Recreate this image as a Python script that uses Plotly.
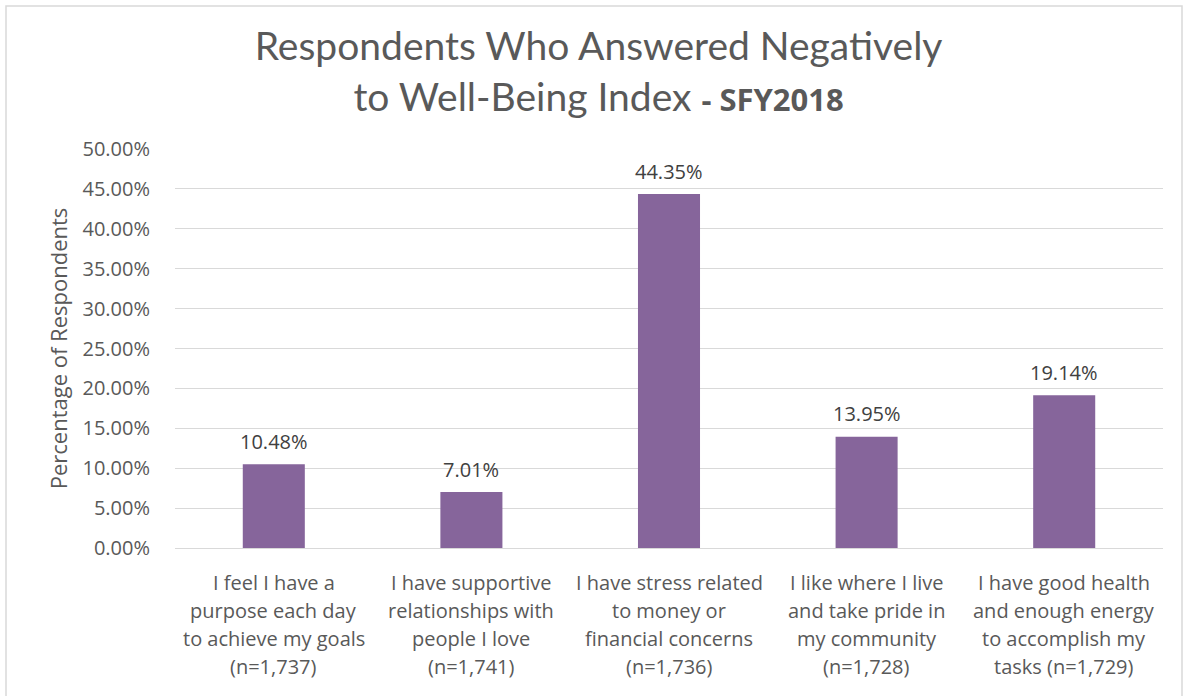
import plotly.graph_objects as go

# Survey items (one list of text lines per category)
category_lines = [
    ["I feel I have a", "purpose each day", "to achieve my goals", "(n=1,737)"],
    ["I have supportive", "relationships with", "people I love", "(n=1,741)"],
    ["I have stress related", "to money or", "financial concerns", "(n=1,736)"],
    ["I like where I live", "and take pride in", "my community", "(n=1,728)"],
    ["I have good health", "and enough energy", "to accomplish my", "tasks (n=1,729)"],
]
categories = [" ".join(lines) for lines in category_lines]

# Share of respondents answering negatively (%)
values = [10.48, 7.01, 44.35, 13.95, 19.14]

y_ticks = [0, 5, 10, 15, 20, 25, 30, 35, 40, 45, 50]
y_tick_text = [f"{t:.2f}%" for t in y_ticks]

BAR_COLOR = "#86659B"
TEXT_COLOR = "#595959"
GRID_COLOR = "#D9D9D9"
LABEL_FONT = "Open Sans"

fig = go.Figure(
    go.Bar(
        x=categories,
        y=values,
        marker=dict(color=BAR_COLOR, line=dict(width=0)),
        hoverinfo="skip",
    )
)

annotations = []
# value labels above each bar
for cat, v in zip(categories, values):
    annotations.append(dict(
        x=cat, y=v, xref="x", yref="y",
        text=f"{v:.2f}%", showarrow=False,
        yanchor="middle", yshift=23,
        font=dict(family=LABEL_FONT, size=20, color="#404040"),
    ))
# multi-line category labels under the axis
for cat, lines in zip(categories, category_lines):
    for i, line in enumerate(lines):
        annotations.append(dict(
            x=cat, y=0, xref="x", yref="paper",
            text=line, showarrow=False,
            yanchor="middle", yshift=-34 - 28.3 * i,
            font=dict(family=LABEL_FONT, size=20, color=TEXT_COLOR),
        ))

fig.update_layout(
    width=1183,
    height=696,
    margin=dict(l=175, r=20, t=149, b=148),
    paper_bgcolor="white",
    plot_bgcolor="white",
    showlegend=False,
    bargap=0.686,
    title=dict(
        text=("Respondents Who Answered Negatively<br>to Well-Being Index "
              "<span style='font-family:Open Sans;font-size:31px'><b>- SFY2018</b></span>"),
        x=0.506, xref="container", xanchor="center",
        y=0.914, yref="container", yanchor="middle",
        font=dict(family="Lato", size=39, color=TEXT_COLOR),
    ),
    xaxis=dict(
        showticklabels=False,
        showgrid=False,
        showline=False,
        zeroline=False,
        fixedrange=True,
    ),
    yaxis=dict(
        range=[0, 50],
        tickvals=y_ticks,
        ticktext=y_tick_text,
        ticks="outside",
        ticklen=20,
        tickcolor="rgba(0,0,0,0)",
        showgrid=True,
        gridcolor=GRID_COLOR,
        gridwidth=1,
        zeroline=True,
        zerolinecolor=GRID_COLOR,
        zerolinewidth=1,
        showline=False,
        tickfont=dict(family=LABEL_FONT, size=20, color=TEXT_COLOR),
        title=dict(
            text="Percentage of Respondents",
            font=dict(family=LABEL_FONT, size=22, color=TEXT_COLOR),
            standoff=8,
        ),
        fixedrange=True,
    ),
    annotations=annotations,
    shapes=[dict(
        type="rect", xref="paper", yref="paper",
        x0=(6 - 175) / 988, x1=(1182 - 175) / 988,
        y0=(548 - 720) / 399, y1=(548 - 6) / 399,
        line=dict(color=GRID_COLOR, width=1.5),
        fillcolor="rgba(0,0,0,0)", layer="below",
    )],
)

fig.write_html("out.html", config={"displayModeBar": False})
